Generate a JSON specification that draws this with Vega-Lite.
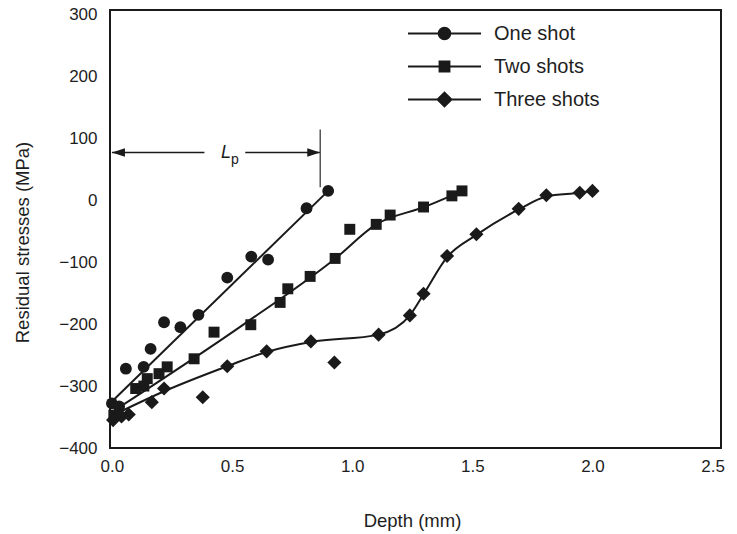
{
  "$schema": "https://vega.github.io/schema/vega-lite/v6.json",
  "width": 611,
  "height": 438,
  "autosize": {"type": "none"},
  "padding": {"left": 110, "top": 10, "right": 16, "bottom": 86},
  "background": "white",
  "config": {
    "font": "Liberation Sans",
    "view": {"stroke": "#1a1a1a", "strokeWidth": 2},
    "axis": {
      "grid": false,
      "ticks": false,
      "domain": false,
      "labelFont": "Liberation Sans",
      "labelFontSize": 17,
      "labelColor": "#1e1e1e",
      "titleFont": "Liberation Sans",
      "titleFontSize": 18.5,
      "titleFontWeight": "normal",
      "titleColor": "#1e1e1e"
    }
  },
  "datasets": {
    "measured": [
      {"depth": 0.90, "stress": 15, "series": "One shot"},
      {"depth": 0.81, "stress": -13, "series": "One shot"},
      {"depth": 0.58, "stress": -91, "series": "One shot"},
      {"depth": 0.65, "stress": -96, "series": "One shot"},
      {"depth": 0.48, "stress": -125, "series": "One shot"},
      {"depth": 0.36, "stress": -185, "series": "One shot"},
      {"depth": 0.285, "stress": -205, "series": "One shot"},
      {"depth": 0.217, "stress": -197, "series": "One shot"},
      {"depth": 0.161, "stress": -240, "series": "One shot"},
      {"depth": 0.132, "stress": -269, "series": "One shot"},
      {"depth": 0.058, "stress": -272, "series": "One shot"},
      {"depth": 0.0, "stress": -328, "series": "One shot"},
      {"depth": 0.03, "stress": -333, "series": "One shot"},
      {"depth": 1.457, "stress": 15, "series": "Two shots"},
      {"depth": 1.415, "stress": 7, "series": "Two shots"},
      {"depth": 1.297, "stress": -11, "series": "Two shots"},
      {"depth": 1.158, "stress": -24, "series": "Two shots"},
      {"depth": 1.10, "stress": -39, "series": "Two shots"},
      {"depth": 0.99, "stress": -47, "series": "Two shots"},
      {"depth": 0.929, "stress": -94, "series": "Two shots"},
      {"depth": 0.825, "stress": -123, "series": "Two shots"},
      {"depth": 0.732, "stress": -143, "series": "Two shots"},
      {"depth": 0.70, "stress": -165, "series": "Two shots"},
      {"depth": 0.578, "stress": -201, "series": "Two shots"},
      {"depth": 0.425, "stress": -213, "series": "Two shots"},
      {"depth": 0.342, "stress": -256, "series": "Two shots"},
      {"depth": 0.23, "stress": -269, "series": "Two shots"},
      {"depth": 0.196, "stress": -280, "series": "Two shots"},
      {"depth": 0.147, "stress": -288, "series": "Two shots"},
      {"depth": 0.133, "stress": -300, "series": "Two shots"},
      {"depth": 0.099, "stress": -304, "series": "Two shots"},
      {"depth": 0.008, "stress": -347, "series": "Two shots"},
      {"depth": 2.0, "stress": 15, "series": "Three shots"},
      {"depth": 1.947, "stress": 12, "series": "Three shots"},
      {"depth": 1.808, "stress": 8, "series": "Three shots"},
      {"depth": 1.693, "stress": -14, "series": "Three shots"},
      {"depth": 1.517, "stress": -55, "series": "Three shots"},
      {"depth": 1.395, "stress": -90, "series": "Three shots"},
      {"depth": 1.297, "stress": -151, "series": "Three shots"},
      {"depth": 1.24, "stress": -186, "series": "Three shots"},
      {"depth": 1.11, "stress": -217, "series": "Three shots"},
      {"depth": 0.926, "stress": -262, "series": "Three shots"},
      {"depth": 0.828, "stress": -228, "series": "Three shots"},
      {"depth": 0.644, "stress": -244, "series": "Three shots"},
      {"depth": 0.48, "stress": -268, "series": "Three shots"},
      {"depth": 0.378, "stress": -318, "series": "Three shots"},
      {"depth": 0.217, "stress": -304, "series": "Three shots"},
      {"depth": 0.166, "stress": -326, "series": "Three shots"},
      {"depth": 0.07, "stress": -346, "series": "Three shots"},
      {"depth": 0.04, "stress": -349, "series": "Three shots"},
      {"depth": 0.005, "stress": -355, "series": "Three shots"}
    ],
    "fitted": [
      {"depth": 0.0, "stress": -325, "series": "One shot"},
      {"depth": 0.9, "stress": 15, "series": "One shot"},
      {"depth": 0.0, "stress": -342, "series": "Two shots"},
      {"depth": 0.55, "stress": -200, "series": "Two shots"},
      {"depth": 0.93, "stress": -94, "series": "Two shots"},
      {"depth": 1.10, "stress": -39, "series": "Two shots"},
      {"depth": 1.30, "stress": -11, "series": "Two shots"},
      {"depth": 1.46, "stress": 15, "series": "Two shots"},
      {"depth": 0.0, "stress": -348, "series": "Three shots"},
      {"depth": 0.22, "stress": -308, "series": "Three shots"},
      {"depth": 0.48, "stress": -268, "series": "Three shots"},
      {"depth": 0.644, "stress": -245, "series": "Three shots"},
      {"depth": 0.828, "stress": -229, "series": "Three shots"},
      {"depth": 1.11, "stress": -217, "series": "Three shots"},
      {"depth": 1.24, "stress": -186, "series": "Three shots"},
      {"depth": 1.297, "stress": -152, "series": "Three shots"},
      {"depth": 1.395, "stress": -92, "series": "Three shots"},
      {"depth": 1.517, "stress": -56, "series": "Three shots"},
      {"depth": 1.693, "stress": -15, "series": "Three shots"},
      {"depth": 1.808, "stress": 6, "series": "Three shots"},
      {"depth": 1.947, "stress": 12, "series": "Three shots"},
      {"depth": 2.0, "stress": 15, "series": "Three shots"}
    ]
  },
  "encoding": {
    "x": {
      "field": "depth",
      "type": "quantitative",
      "title": "Depth (mm)",
      "scale": {"domain": [-0.008, 2.535], "nice": false, "zero": false},
      "axis": {
        "values": [0, 0.5, 1, 1.5, 2, 2.5],
        "format": ".1f",
        "labelPadding": 10,
        "titleX": 302,
        "titleY": 72,
        "titleBaseline": "middle"
      }
    },
    "y": {
      "field": "stress",
      "type": "quantitative",
      "title": "Residual stresses (MPa)",
      "scale": {"domain": [-400, 307], "nice": false, "zero": false},
      "axis": {
        "values": [-400, -300, -200, -100, 0, 100, 200, 300],
        "labelPadding": 13,
        "titleX": -88,
        "titleY": 232,
        "titleBaseline": "middle"
      }
    }
  },
  "layer": [
    {
      "data": {"name": "fitted"},
      "mark": {"type": "line", "interpolate": "monotone", "color": "#1a1a1a", "strokeWidth": 2},
      "encoding": {"detail": {"field": "series"}}
    },
    {
      "data": {"name": "measured"},
      "mark": {"type": "point", "filled": true, "opacity": 1, "color": "#1a1a1a"},
      "encoding": {
        "shape": {
          "field": "series",
          "scale": {"domain": ["One shot", "Two shots", "Three shots"], "range": ["circle", "square", "diamond"]},
          "legend": null
        },
        "size": {
          "field": "series",
          "type": "nominal",
          "scale": {"type": "ordinal", "domain": ["One shot", "Two shots", "Three shots"], "range": [140, 120, 200]},
          "legend": null
        }
      }
    },
    {
      "data": {"name": "measured"},
      "transform": [{"filter": "false"}],
      "mark": {"type": "point", "filled": false, "opacity": 1, "color": "#1a1a1a", "fill": "#1a1a1a", "stroke": "#1a1a1a", "strokeWidth": 2},
      "encoding": {
        "shape": {
          "field": "series",
          "scale": {
            "domain": ["One shot", "Two shots", "Three shots"],
            "range": [
              "M-1,0L1,0M-0.16,0A0.16,0.16,0,1,1,0.16,0A0.16,0.16,0,1,1,-0.16,0Z",
              "M-1,0L1,0M-0.135,-0.135L0.135,-0.135L0.135,0.135L-0.135,0.135Z",
              "M-1,0L1,0M-0.19,0L0,-0.19L0.19,0L0,0.19Z"
            ]
          },
          "legend": {
            "title": null,
            "orient": "none",
            "legendX": 297,
            "legendY": 7,
            "symbolSize": 5329,
            "clipHeight": 33,
            "rowPadding": 0,
            "padding": 0,
            "labelFont": "Liberation Sans",
            "labelFontSize": 20,
            "labelColor": "#1e1e1e",
            "labelOffset": 12,
            "symbolStrokeWidth": 2,
            "symbolOpacity": 1
          }
        }
      }
    },
    {
      "data": {"values": [
        {"depth": 0.0, "depth2": 0.385, "stress": 77},
        {"depth": 0.555, "depth2": 0.867, "stress": 77}
      ]},
      "mark": {"type": "rule", "color": "#1a1a1a", "strokeWidth": 1.5},
      "encoding": {"x2": {"field": "depth2"}}
    },
    {
      "data": {"values": [{"depth": 0.867, "stress": 21, "stress2": 114}]},
      "mark": {"type": "rule", "color": "#555", "strokeWidth": 1.5},
      "encoding": {"y2": {"field": "stress2"}}
    },
    {
      "data": {"values": [
        {"depth": 0.0, "stress": 77, "end": "start"},
        {"depth": 0.867, "stress": 77, "end": "finish"}
      ]},
      "mark": {"type": "point", "filled": true, "opacity": 1, "color": "#1a1a1a", "size": 169},
      "encoding": {
        "shape": {
          "field": "end",
          "scale": {"domain": ["start", "finish"], "range": ["M0,0L2,-0.65L2,0.65Z", "M0,0L-2,-0.65L-2,0.65Z"]},
          "legend": null
        }
      }
    },
    {
      "data": {"values": [{"depth": 0.475, "stress": 76, "t": "L"}]},
      "mark": {"type": "text", "font": "Liberation Sans", "fontStyle": "italic", "fontSize": 18, "baseline": "middle", "color": "#1a1a1a"},
      "encoding": {"text": {"field": "t"}}
    },
    {
      "data": {"values": [{"depth": 0.512, "stress": 65, "t": "p"}]},
      "mark": {"type": "text", "font": "Liberation Sans", "fontSize": 14, "baseline": "middle", "color": "#1a1a1a"},
      "encoding": {"text": {"field": "t"}}
    }
  ],
  "resolve": {"scale": {"shape": "independent", "size": "independent"}, "legend": {"shape": "independent"}}
}
